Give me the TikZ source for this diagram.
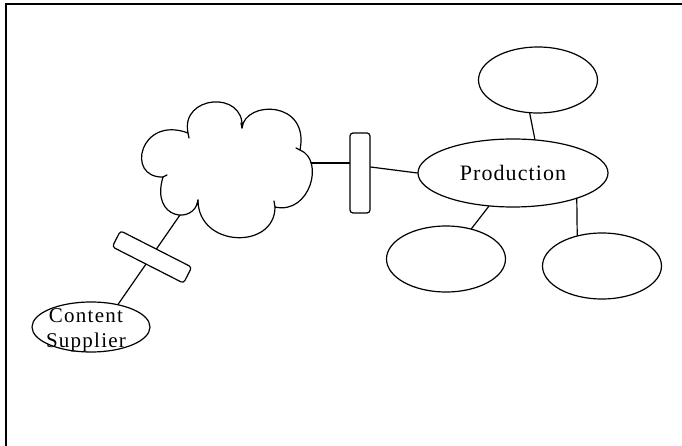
\documentclass[tikz,border=0pt]{standalone}
\usepackage{fontspec}
\setmainfont{Liberation Serif}
\usetikzlibrary{shapes.geometric,calc}
\tikzset{
  ln/.style={line width=1.2pt, line cap=round, line join=round},
  oval/.style={ellipse, draw, ln, fill=white, inner sep=0pt},
  barbox/.style={rectangle, draw, ln, fill=white, rounded corners=3pt, inner sep=0pt},
}
\begin{document}
\begin{tikzpicture}[x=1pt,y=-1pt]
\useasboundingbox (0,0) rectangle (682,446);
% frame
\draw[line width=1.4pt] (6,446) -- (6,4) -- (682,4);
% cloud
\draw[ln] (163,177) .. controls (125,178) and (140,115) .. (188,133)
  .. controls (180,95) and (245,90) .. (242,128)
  .. controls (245,100) and (310,100) .. (300,150)
  .. controls (325,160) and (310,215) .. (275,207)
  .. controls (275,250) and (198,248) .. (198,200)
  .. controls (195,225) and (150,220) .. (163,177) -- cycle;
\draw[ln] (188,133) -- (189,138);
\draw[ln] (242,128) -- (241,123);
\draw[ln] (300,150) -- (296,148);
\draw[ln] (275,207) -- (274,201);
\draw[ln] (198,200) -- (197,205);
\draw[ln] (163,177) -- (167,175);
\coordinate (cloudR) at (311,163);
\coordinate (cloudB) at (180,215);
% nodes
\node[barbox, minimum width=20pt, minimum height=80pt] (vbar) at (360,173) {};
\node[oval, minimum width=190pt, minimum height=68pt,
      font=\fontsize{22}{26}\selectfont\addfontfeatures{LetterSpace=5}] (prod) at (513,173) {Production};
\node[oval, minimum width=119pt, minimum height=66pt] (top) at (538,80) {};
\node[oval, minimum width=119pt, minimum height=66pt] (bl) at (446,259) {};
\node[oval, minimum width=119pt, minimum height=66pt] (br) at (602,266) {};
\node[oval, minimum width=118pt, minimum height=50pt] (cs) at (91,327) {};
\node[inner sep=0pt, align=center,
      font=\fontsize{21}{25}\selectfont\addfontfeatures{LetterSpace=6}] (cstext) at (86,330) {Content\\Supplier};
% connectors
\draw[ln] (cloudR) -- (cloudR -| vbar.west);
\draw[ln] ($(vbar.east)+(0,-6)$) -- (prod.west);
\draw[ln] (top.256) -- (prod.57);
\draw[ln] (prod.234) -- (bl.50);
\draw[ln] (prod.338) -- (br.129);
\draw[ln] (cloudB) -- (cs.40);
\node[barbox, minimum width=80pt, minimum height=18pt, rotate=-27] (tbar) at (152,257) {};
\end{tikzpicture}
\end{document}
